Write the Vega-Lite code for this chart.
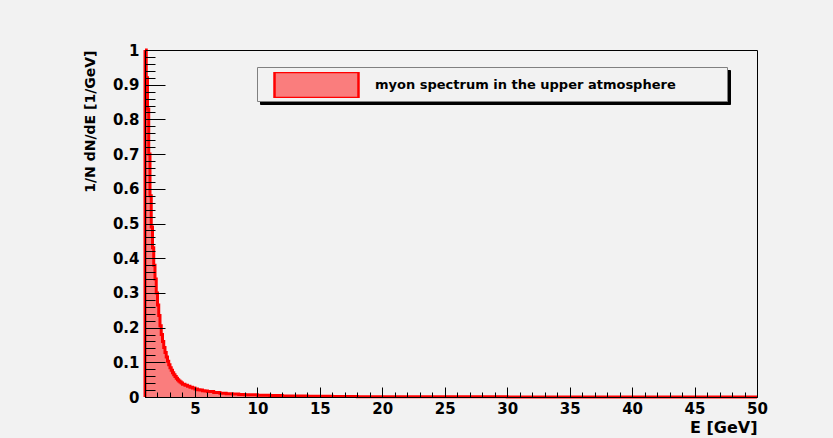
{
  "$schema": "https://vega.github.io/schema/vega-lite/v6.json",
  "width": 612,
  "height": 347,
  "autosize": "none",
  "padding": {"left": 145, "top": 50, "right": 76, "bottom": 41},
  "background": "#f2f2f2",
  "config": {
    "view": {"stroke": "black", "strokeWidth": 1, "fill": "#f2f2f2"},
    "font": "DejaVu Sans"
  },
  "data": {
    "values": [
      {"E": 1.0, "v": 0},
      {"E": 1.0, "v": 1.0},
      {"E": 1.1, "v": 0.92},
      {"E": 1.2, "v": 0.83},
      {"E": 1.3, "v": 0.70},
      {"E": 1.4, "v": 0.58},
      {"E": 1.5, "v": 0.49},
      {"E": 1.6, "v": 0.43},
      {"E": 1.7, "v": 0.38},
      {"E": 1.8, "v": 0.34},
      {"E": 1.9, "v": 0.30},
      {"E": 2.0, "v": 0.265},
      {"E": 2.1, "v": 0.235},
      {"E": 2.2, "v": 0.205},
      {"E": 2.3, "v": 0.18},
      {"E": 2.4, "v": 0.16},
      {"E": 2.5, "v": 0.143},
      {"E": 2.6, "v": 0.128},
      {"E": 2.7, "v": 0.115},
      {"E": 2.8, "v": 0.103},
      {"E": 2.9, "v": 0.093},
      {"E": 3.0, "v": 0.084},
      {"E": 3.1, "v": 0.077},
      {"E": 3.2, "v": 0.070},
      {"E": 3.3, "v": 0.064},
      {"E": 3.4, "v": 0.059},
      {"E": 3.5, "v": 0.054},
      {"E": 3.6, "v": 0.050},
      {"E": 3.7, "v": 0.046},
      {"E": 3.8, "v": 0.043},
      {"E": 3.9, "v": 0.040},
      {"E": 4.0, "v": 0.037},
      {"E": 4.2, "v": 0.034},
      {"E": 4.4, "v": 0.031},
      {"E": 4.6, "v": 0.028},
      {"E": 4.8, "v": 0.026},
      {"E": 5.0, "v": 0.023},
      {"E": 5.2, "v": 0.021},
      {"E": 5.4, "v": 0.020},
      {"E": 5.6, "v": 0.018},
      {"E": 5.8, "v": 0.017},
      {"E": 6.0, "v": 0.016},
      {"E": 6.5, "v": 0.013},
      {"E": 7.0, "v": 0.011},
      {"E": 7.5, "v": 0.0095},
      {"E": 8.0, "v": 0.0085},
      {"E": 8.5, "v": 0.0075},
      {"E": 9.0, "v": 0.0065},
      {"E": 10.0, "v": 0.005},
      {"E": 11.0, "v": 0.004},
      {"E": 12.0, "v": 0.003},
      {"E": 14.0, "v": 0.002},
      {"E": 16.0, "v": 0.0015},
      {"E": 18.0, "v": 0.001},
      {"E": 20.0, "v": 0.0008},
      {"E": 25.0, "v": 0.0005},
      {"E": 30.0, "v": 0.0003},
      {"E": 35.0, "v": 0.0002},
      {"E": 40.0, "v": 0.00015},
      {"E": 45.0, "v": 0.0001},
      {"E": 50.0, "v": 0.0001}
    ]
  },
  "encoding": {
    "x": {
      "field": "E",
      "type": "quantitative",
      "scale": {"domain": [1, 50], "nice": false, "zero": false},
      "axis": {
        "title": "E [GeV]",
        "titleFont": "DejaVu Sans",
        "titleFontSize": 16,
        "titleFontWeight": "bold",
        "titleColor": "black",
        "titleX": 612,
        "titleY": 35,
        "titleAlign": "right",
        "titleBaseline": "alphabetic",
        "titleAnchor": null,
        "values": [2,3,4,5,6,7,8,9,10,11,12,13,14,15,16,17,18,19,20,21,22,23,24,25,26,27,28,29,30,31,32,33,34,35,36,37,38,39,40,41,42,43,44,45,46,47,48,49,50],
        "labelExpr": "datum.value % 5 === 0 ? format(datum.value, 'd') : ''",
        "labelOverlap": false,
        "labelFlush": false,
        "labelFont": "DejaVu Sans",
        "labelFontSize": 15,
        "labelFontWeight": "bold",
        "labelColor": "black",
        "labelPadding": 14,
        "labelBaseline": "top",
        "tickColor": "black",
        "tickWidth": 1,
        "tickSize": {"condition": {"test": "datum.value % 5 === 0", "value": -10}, "value": -5},
        "domainColor": "black",
        "domainWidth": 1,
        "grid": false,
        "zindex": 1
      }
    },
    "y": {
      "field": "v",
      "type": "quantitative",
      "scale": {"domain": [0, 1], "nice": false},
      "axis": {
        "title": "1/N dN/dE [1/GeV]",
        "titleFont": "DejaVu Sans",
        "titleFontSize": 14,
        "titleFontWeight": "bold",
        "titleColor": "black",
        "titleX": -48,
        "titleY": 0,
        "titleAngle": 270,
        "titleAlign": "right",
        "titleBaseline": "bottom",
        "titleAnchor": null,
        "values": [0,0.02,0.04,0.06,0.08,0.1,0.12,0.14,0.16,0.18,0.2,0.22,0.24,0.26,0.28,0.3,0.32,0.34,0.36,0.38,0.4,0.42,0.44,0.46,0.48,0.5,0.52,0.54,0.56,0.58,0.6,0.62,0.64,0.66,0.68,0.7,0.72,0.74,0.76,0.78,0.8,0.82,0.84,0.86,0.88,0.9,0.92,0.94,0.96,0.98,1],
        "labelExpr": "abs(datum.value*10 - round(datum.value*10)) < 0.001 ? format(datum.value, '.1~f') : ''",
        "labelOverlap": false,
        "labelFlush": false,
        "labelFont": "DejaVu Sans",
        "labelFontSize": 15,
        "labelFontWeight": "bold",
        "labelColor": "black",
        "labelPadding": 26,
        "tickColor": "black",
        "tickWidth": 1,
        "tickSize": {"condition": {"test": "abs(datum.value*10 - round(datum.value*10)) < 0.001", "value": -20}, "value": -10},
        "domainColor": "black",
        "domainWidth": 1,
        "grid": false,
        "zindex": 1
      }
    }
  },
  "layer": [
    {
      "mark": {"type": "area", "interpolate": "step-after", "opacity": 1},
      "encoding": {
        "order": {"value": null},
        "fill": {
          "datum": "myon spectrum in the upper atmosphere",
          "type": "nominal",
          "scale": {"range": ["#fa7d7d"]},
          "legend": {
            "title": null,
            "orient": "none",
            "legendX": 112,
            "legendY": 17,
            "zindex": 3,
            "padding": 5,
            "symbolOffset": 11,
            "clipHeight": 26,
            "symbolType": "M-1,-0.31H1V0.31H-1Z",
            "symbolSize": 7056,
            "symbolStrokeColor": "#ff0000",
            "symbolStrokeWidth": 2.5,
            "symbolOpacity": 1,
            "labelOffset": 15,
            "labelFont": "DejaVu Sans",
            "labelFontSize": 13,
            "labelFontWeight": "bold",
            "labelColor": "black",
            "labelLimit": 600,
            "strokeColor": null,
            "fillColor": null,
            "cornerRadius": 0
          }
        }
      }
    },
    {
      "mark": {"type": "line", "interpolate": "step-after", "strokeWidth": 3},
      "encoding": {
        "order": {"value": null},
        "stroke": {
          "datum": "shadow",
          "type": "nominal",
          "scale": {"range": ["#ff0000"]},
          "legend": {
            "title": null,
            "orient": "none",
            "legendX": 115,
            "legendY": 20,
            "zindex": 1,
            "padding": 5,
            "symbolOffset": 0,
            "clipHeight": 24,
            "symbolType": "M-1,-0.05H1V0.05H-1Z",
            "symbolSize": 209764,
            "symbolOpacity": 0,
            "labelOffset": 0,
            "labelFontSize": 1,
            "labelExpr": "''",
            "strokeColor": "black",
            "fillColor": "black",
            "cornerRadius": 0
          }
        },
        "strokeDash": {
          "datum": "box",
          "type": "nominal",
          "scale": {"range": [[1, 0]]},
          "legend": {
            "title": null,
            "orient": "none",
            "legendX": 112,
            "legendY": 17,
            "zindex": 2,
            "padding": 5,
            "symbolOffset": 0,
            "clipHeight": 24,
            "symbolType": "M-1,-0.05H1V0.05H-1Z",
            "symbolSize": 209764,
            "symbolOpacity": 0,
            "labelOffset": 0,
            "labelFontSize": 1,
            "labelExpr": "''",
            "strokeColor": "#808080",
            "fillColor": "#f2f2f2",
            "cornerRadius": 0
          }
        }
      }
    }
  ]
}
